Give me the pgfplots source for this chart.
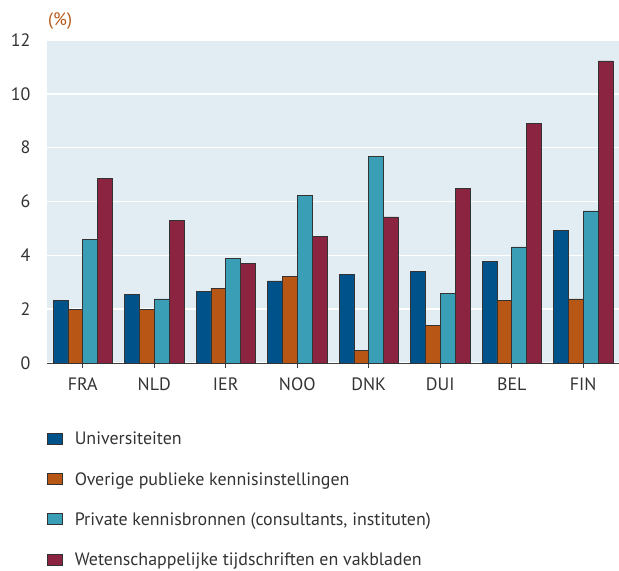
\documentclass[border=0pt]{standalone}
\usepackage{fontspec}
\setmainfont{PT Sans}
\usepackage{pgfplots}
\pgfplotsset{compat=1.18}
\definecolor{cUni}{HTML}{00538A}
\definecolor{cOvr}{HTML}{B75615}
\definecolor{cPri}{HTML}{3A9EB7}
\definecolor{cWet}{HTML}{8A2441}
\definecolor{bgblue}{HTML}{E1EDF3}
\definecolor{txt}{HTML}{333333}
\pgfplotsset{
  boxleg/.style={legend image code/.code={\draw[##1, draw=black!80, line width=0.6pt] (0bp,-5bp) rectangle (15bp,6bp);}},
}
\begin{document}
\begin{tikzpicture}[font=\fontsize{18}{21}\selectfont, text=txt]
  % fixed canvas, same size as the reference (axis box at 47..619 x 40..363 px)
  \useasboundingbox (-47bp,-208bp) rectangle (572bp,363bp);
  \begin{axis}[
      at={(0,0)}, anchor=south west,
      scale only axis, width=572bp, height=323bp,
      clip=false,
      ybar=0pt, bar width=0.208,
      xmin=-0.5, xmax=7.5, ymin=0, ymax=12,
      xtick={0,...,7},
      xticklabels={FRA,NLD,IER,NOO,DNK,DUI,BEL,FIN},
      ytick={0,2,...,12},
      /pgf/number format/assume math mode=true,
      axis x line=bottom, axis y line=left,
      axis line style={-},
      x axis line style={draw=black!75, line width=0.8pt},
      y axis line style={draw=none},
      ytick style={draw=none},
      xtick style={draw=black!75, line width=0.8pt},
      tick align=outside, major tick length=5bp,
      y tick label style={xshift=-8bp},
      x tick label style={yshift=-6bp},
      axis background/.style={fill=bgblue},
      ymajorgrids, grid style={white, line width=1.6pt},
      every axis plot/.append style={draw=black!80, line width=0.6pt},
      legend style={at={(0,0)}, anchor=north west, yshift=-68bp,
                    draw=none, fill=none, inner sep=0pt,
                    row sep=24bp, cells={anchor=west},
                    nodes={inner xsep=12bp, inner ysep=1bp}},
      legend cell align=left,
    ]
    \addplot[fill=cUni, boxleg] coordinates {
      (0,2.33) (1,2.55) (2,2.67) (3,3.05) (4,3.29) (5,3.41) (6,3.77) (7,4.92)};
    \addplot[fill=cOvr, boxleg] coordinates {
      (0,2.00) (1,2.00) (2,2.78) (3,3.22) (4,0.48) (5,1.41) (6,2.33) (7,2.38)};
    \addplot[fill=cPri, boxleg] coordinates {
      (0,4.59) (1,2.38) (2,3.89) (3,6.22) (4,7.67) (5,2.60) (6,4.31) (7,5.65)};
    \addplot[fill=cWet, boxleg] coordinates {
      (0,6.87) (1,5.29) (2,3.69) (3,4.71) (4,5.43) (5,6.48) (6,8.91) (7,11.22)};
    \legend{Universiteiten, Overige publieke kennisinstellingen,
            Private kennisbronnen (consultants{,} instituten),
            Wetenschappelijke tijdschriften en vakbladen}
    \node[anchor=base west, text=cOvr, inner sep=0pt] at (rel axis cs:0,1) [xshift=1bp, yshift=15bp] {(\%)};
  \end{axis}
\end{tikzpicture}
\end{document}
